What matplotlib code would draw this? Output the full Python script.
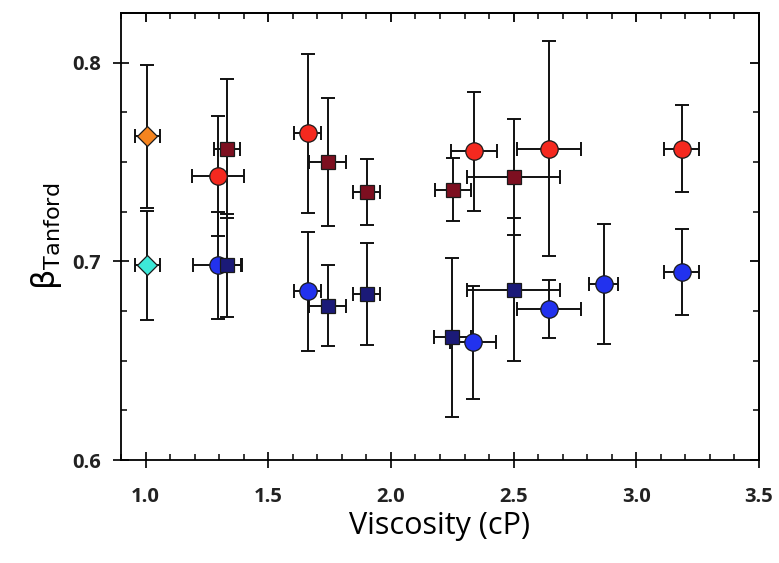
import numpy as np
import matplotlib
matplotlib.use('Agg')
import matplotlib.pyplot as plt
from matplotlib.ticker import MultipleLocator

# ===========================
# Data
# ===========================
red_x = [1.295, 1.661, 2.339, 2.644, 3.185]
red_y = [0.743, 0.7645, 0.7554, 0.7567, 0.7567]
red_xerr = [0.106, 0.056, 0.093, 0.13, 0.071]
red_yerr = [0.030, 0.040, 0.030, 0.054, 0.022]

blue_x = [1.295, 1.661, 2.335, 2.644, 2.867, 3.185]
blue_y = [0.698, 0.685, 0.6592, 0.676, 0.6886, 0.6945]
blue_xerr = [0.10, 0.056, 0.093, 0.13, 0.058, 0.071]
blue_yerr = [0.027, 0.030, 0.0285, 0.0146, 0.030, 0.0217]

dred_x = [1.333, 1.742, 1.902, 2.253, 2.501]
dred_y = [0.7567, 0.750, 0.7348, 0.7361, 0.7424]
dred_xerr = [0.054, 0.077, 0.055, 0.075, 0.19]
dred_yerr = [0.035, 0.032, 0.0165, 0.016, 0.029]

navy_x = [1.334, 1.742, 1.902, 2.25, 2.501]
navy_y = [0.698, 0.6777, 0.6836, 0.6617, 0.6856]
navy_xerr = [0.055, 0.077, 0.055, 0.075, 0.19]
navy_yerr = [0.026, 0.0205, 0.0256, 0.040, 0.036]

orange_x = [1.008]
orange_y = [0.763]
orange_xerr = [0.05]
orange_yerr = [0.036]

cyan_x = [1.008]
cyan_y = [0.698]
cyan_xerr = [0.05]
cyan_yerr = [0.0275]

x_ticks = [1.0, 1.5, 2.0, 2.5, 3.0, 3.5]
y_ticks = [0.6, 0.7, 0.8]

# ===========================
# Figure
# ===========================
fig = plt.figure(figsize=(7.79, 5.63), dpi=100)
ax = fig.add_axes([0.1553, 0.1829, 0.819, 0.794])

def draw(x, y, xerr, yerr, marker, color, ms):
    ax.errorbar(x, y, xerr=xerr, yerr=yerr, fmt='none', ecolor='#111111',
                elinewidth=1.4, capsize=5, capthick=1.4, zorder=2)
    ax.plot(x, y, linestyle='none', marker=marker, markersize=ms,
            markerfacecolor=color, markeredgecolor='#1a1a1a',
            markeredgewidth=0.9, zorder=3)

draw(orange_x, orange_y, orange_xerr, orange_yerr, 'D', '#F5841F', 10)
draw(cyan_x, cyan_y, cyan_xerr, cyan_yerr, 'D', '#3DE8D8', 10)
draw(red_x, red_y, red_xerr, red_yerr, 'o', '#F5291F', 12.5)
draw(blue_x, blue_y, blue_xerr, blue_yerr, 'o', '#2232EE', 12.5)
draw(dred_x, dred_y, dred_xerr, dred_yerr, 's', '#7D0F20', 10)
draw(navy_x, navy_y, navy_xerr, navy_yerr, 's', '#1B1A78', 10)

ax.set_xlim(0.9, 3.5)
ax.set_ylim(0.6, 0.825)

for s in ax.spines.values():
    s.set_linewidth(1.3)

ax.set_xticks(x_ticks)
ax.set_yticks(y_ticks)
ax.set_xticklabels(['%.1f' % v for v in x_ticks])
ax.set_yticklabels(['%.1f' % v for v in y_ticks])
ax.xaxis.set_minor_locator(MultipleLocator(0.1))
ax.yaxis.set_minor_locator(MultipleLocator(0.025))
ax.tick_params(which='major', direction='inout', length=11, width=1.3,
               labelsize=14.5, colors='#111111')
ax.tick_params(axis='y', which='major', pad=9)
ax.tick_params(axis='x', which='major', pad=14)
ax.tick_params(which='minor', direction='in', length=4.5, width=1.1)
for lab in ax.get_xticklabels() + ax.get_yticklabels():
    lab.set_fontfamily('Open Sans')
    lab.set_fontweight('bold')
    lab.set_color('#222222')

# inward ticks on top and right
top = ax.secondary_xaxis('top')
top.set_xticks(x_ticks)
top.xaxis.set_minor_locator(MultipleLocator(0.1))
top.tick_params(which='major', direction='in', length=6.5, width=1.3, labeltop=False)
top.tick_params(which='minor', direction='in', length=4, width=1.1)
top.spines['top'].set_linewidth(1.3)
right = ax.secondary_yaxis('right')
right.set_yticks(y_ticks)
right.yaxis.set_minor_locator(MultipleLocator(0.025))
right.tick_params(which='major', direction='in', length=6.5, width=1.3, labelright=False)
right.tick_params(which='minor', direction='in', length=4, width=1.1)
right.spines['right'].set_linewidth(1.3)

ax.set_xlabel('Viscosity (cP)', fontsize=22, fontfamily='Open Sans', labelpad=3)
ax.set_ylabel(r'$\mathregular{\beta_{Tanford}}$', fontsize=23, labelpad=6)

fig.savefig('out.png', dpi=100, facecolor='white')
